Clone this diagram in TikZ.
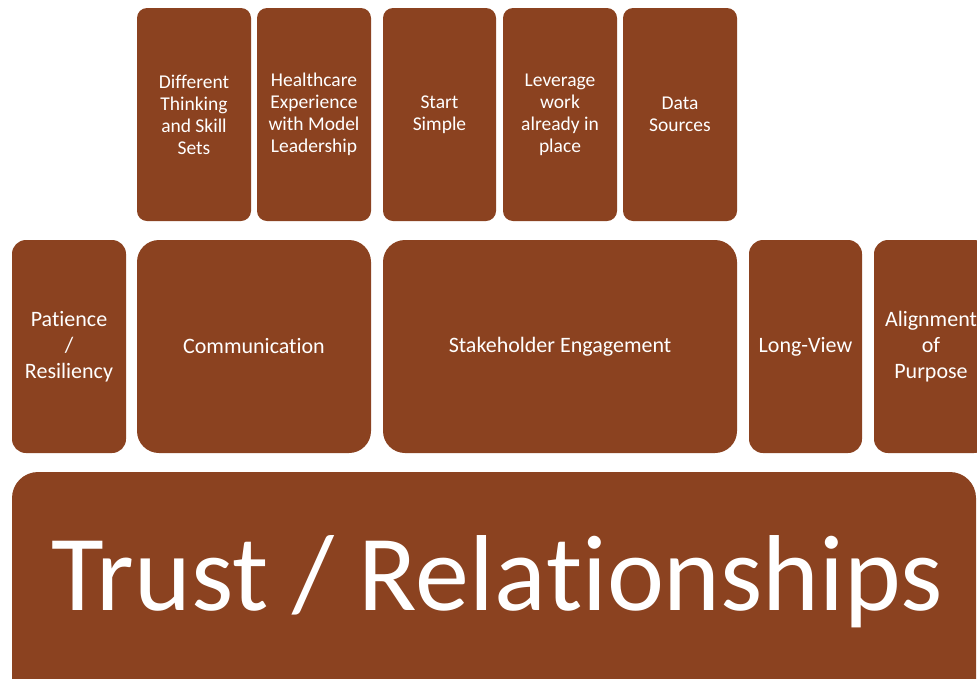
\documentclass[tikz,border=0pt]{standalone}
\usepackage{fontspec}
\setmainfont{Carlito}[RawFeature={-liga;-clig;-dlig;-calt}]
\definecolor{brick}{RGB}{139,66,32}
\begin{document}
\begin{tikzpicture}[x=1pt,y=-1pt,
  tile/.style={fill=brick, draw=none, text=white, align=center, inner sep=0pt},
  small/.style={tile, rounded corners=10pt, font=\fontsize{19.5}{22}\selectfont},
  mid/.style={tile, rounded corners=14pt, font=\fontsize{22}{26}\selectfont},
  wide/.style={tile, rounded corners=22pt, font=\fontsize{22}{26}\selectfont}]
\useasboundingbox (0,0) rectangle (977,678);
\clip (0,0) rectangle (977,678);
% top row of enablers
\node[small, minimum width=114pt, minimum height=213pt] (diff)  at (194,114.5) {Different\\Thinking\\and Skill\\Sets};
\node[small, minimum width=114pt, minimum height=213pt] (hc)    at (314,114.5) {Healthcare\\Experience\\with Model\\Leadership};
\node[small, minimum width=113pt, minimum height=213pt] (start) at (439.5,114.5) {Start\\Simple};
\node[small, minimum width=114pt, minimum height=213pt] (lev)   at (560,114.5) {Leverage\\work\\already in\\place};
\node[small, minimum width=114pt, minimum height=213pt] (data)  at (680,114.5) {Data\\Sources};
% middle row
\node[mid,  minimum width=114pt, minimum height=213pt] (pat)   at (69,346.5) {Patience\\/\\Resiliency};
\node[wide, minimum width=234pt, minimum height=213pt] (comm)  at (254,346.5) {Communication};
\node[wide, minimum width=354pt, minimum height=213pt] (stake) at (560,346.5) {Stakeholder Engagement};
\node[mid,  minimum width=113pt, minimum height=213pt] (long)  at (805.5,346.5) {Long-View};
\node[mid,  minimum width=114pt, minimum height=213pt] (align) at (931,346.5) {Alignment\\of\\Purpose};
% foundation
\node[tile, rounded corners=26pt, minimum width=964pt, minimum height=260pt] (base) at (494,602) {};
\node[text=white, inner sep=0pt, anchor=base, font=\fontsize{108}{120}\selectfont] (trust) at (497,610) {Trust / Rela\kern0pt tionships};
\end{tikzpicture}
\end{document}
